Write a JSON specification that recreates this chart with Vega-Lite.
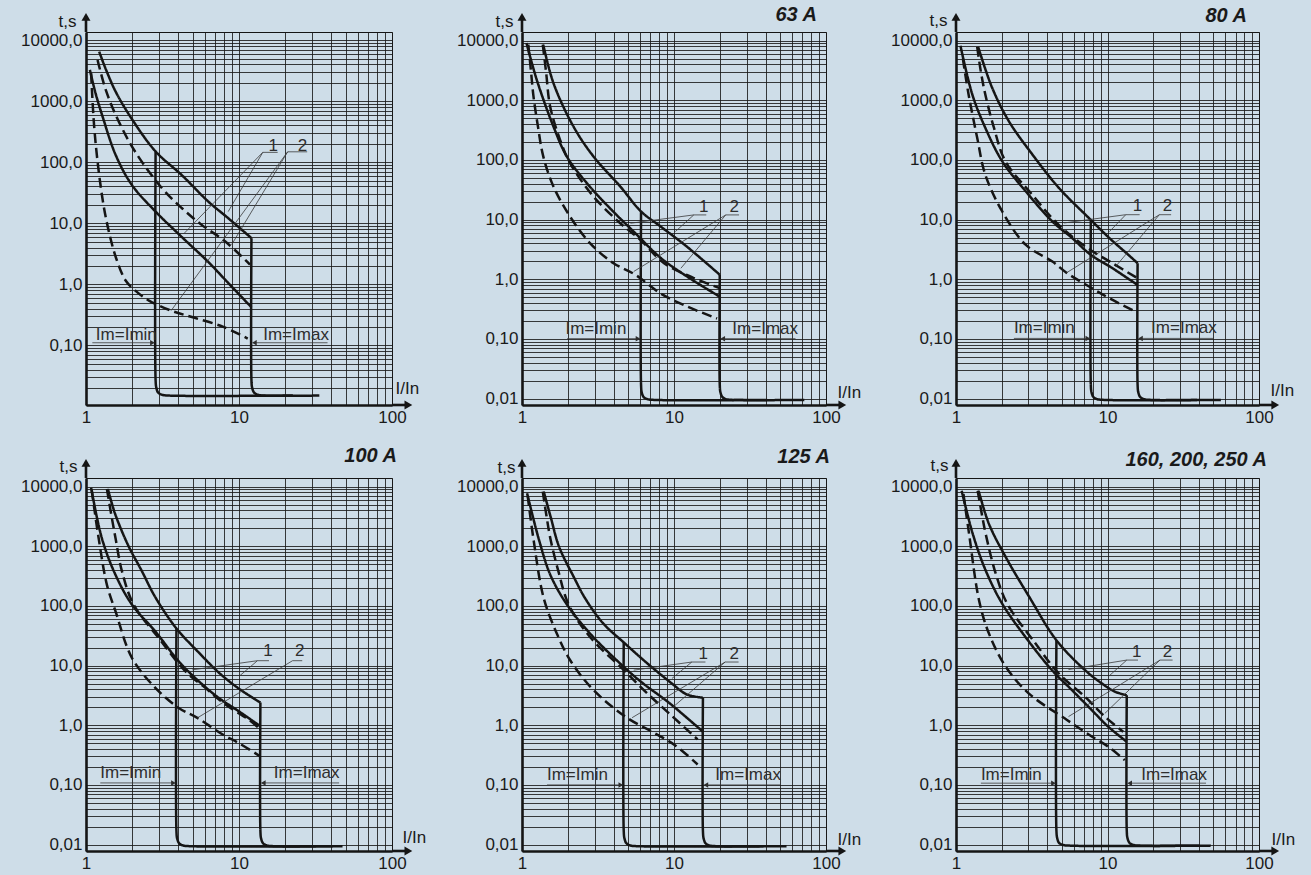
{
"$schema": "https://vega.github.io/schema/vega-lite/v6.json",
"background": "#cedde8",
"autosize": {"type": "none"},
"padding": {"left": 86, "top": 32, "right": 1225, "bottom": 843},
"datasets": {
"cur": [
{"p":"a","id":"a1","d":"s","i":1,"x":1.06,"y":3260},{"p":"a","id":"a1","d":"s","i":2,"x":1.15,"y":1400},{"p":"a","id":"a1","d":"s","i":3,"x":1.28,"y":571},{"p":"a","id":"a1","d":"s","i":4,"x":1.57,"y":128},{"p":"a","id":"a1","d":"s","i":5,"x":2.0,"y":42},{"p":"a","id":"a1","d":"s","i":6,"x":2.85,"y":15.5},{"p":"a","id":"a1","d":"s","i":7,"x":4.24,"y":5.9},{"p":"a","id":"a1","d":"s","i":8,"x":6.32,"y":2.3},{"p":"a","id":"a1","d":"s","i":9,"x":8.5,"y":1.05},{"p":"a","id":"a1","d":"s","i":10,"x":12.06,"y":0.42},
{"p":"a","id":"a2","d":"s","i":1,"x":1.22,"y":6470},{"p":"a","id":"a2","d":"s","i":2,"x":1.35,"y":3300},{"p":"a","id":"a2","d":"s","i":3,"x":1.57,"y":1400},{"p":"a","id":"a2","d":"s","i":4,"x":2.0,"y":505},{"p":"a","id":"a2","d":"s","i":5,"x":2.85,"y":150},{"p":"a","id":"a2","d":"s","i":6,"x":4.24,"y":61},{"p":"a","id":"a2","d":"s","i":7,"x":6.32,"y":22.5},{"p":"a","id":"a2","d":"s","i":8,"x":8.5,"y":12.1},{"p":"a","id":"a2","d":"s","i":9,"x":12.06,"y":5.7},
{"p":"a","id":"a3","d":"d","i":1,"x":1.19,"y":4740},{"p":"a","id":"a3","d":"d","i":2,"x":1.35,"y":1500},{"p":"a","id":"a3","d":"d","i":3,"x":1.65,"y":445},{"p":"a","id":"a3","d":"d","i":4,"x":2.11,"y":145},{"p":"a","id":"a3","d":"d","i":5,"x":3.15,"y":37},{"p":"a","id":"a3","d":"d","i":6,"x":4.24,"y":17.6},{"p":"a","id":"a3","d":"d","i":7,"x":5.7,"y":9.4},{"p":"a","id":"a3","d":"d","i":8,"x":8.1,"y":5.06},{"p":"a","id":"a3","d":"d","i":9,"x":11.8,"y":2.1},
{"p":"a","id":"a4","d":"d","i":1,"x":1.08,"y":2880},{"p":"a","id":"a4","d":"d","i":2,"x":1.13,"y":394},{"p":"a","id":"a4","d":"d","i":3,"x":1.22,"y":61},{"p":"a","id":"a4","d":"d","i":4,"x":1.35,"y":12.1},{"p":"a","id":"a4","d":"d","i":5,"x":1.57,"y":2.72},{"p":"a","id":"a4","d":"d","i":6,"x":1.82,"y":1.14},{"p":"a","id":"a4","d":"d","i":7,"x":2.11,"y":0.78},{"p":"a","id":"a4","d":"d","i":8,"x":2.58,"y":0.54},{"p":"a","id":"a4","d":"d","i":9,"x":3.6,"y":0.37},{"p":"a","id":"a4","d":"d","i":10,"x":4.92,"y":0.29},{"p":"a","id":"a4","d":"d","i":11,"x":7.9,"y":0.2},{"p":"a","id":"a4","d":"d","i":12,"x":11.4,"y":0.129},
{"p":"a","id":"a5","d":"s","i":1,"x":2.85,"y":150},{"p":"a","id":"a5","d":"s","i":2,"x":2.85,"y":0.027},{"p":"a","id":"a5","d":"s","i":3,"x":2.88,"y":0.0203},{"p":"a","id":"a5","d":"s","i":4,"x":2.96,"y":0.0168},{"p":"a","id":"a5","d":"s","i":5,"x":3.14,"y":0.01545},{"p":"a","id":"a5","d":"s","i":6,"x":3.48,"y":0.015},{"p":"a","id":"a5","d":"s","i":7,"x":22.5,"y":0.015},
{"p":"a","id":"a6","d":"s","i":1,"x":12.06,"y":5.7},{"p":"a","id":"a6","d":"s","i":2,"x":12.06,"y":0.027},{"p":"a","id":"a6","d":"s","i":3,"x":12.18,"y":0.0203},{"p":"a","id":"a6","d":"s","i":4,"x":12.54,"y":0.0168},{"p":"a","id":"a6","d":"s","i":5,"x":13.27,"y":0.01545},{"p":"a","id":"a6","d":"s","i":6,"x":14.7,"y":0.015},{"p":"a","id":"a6","d":"s","i":7,"x":33.5,"y":0.015},

{"p":"b","id":"b1","d":"s","i":1,"x":1.07,"y":9140},{"p":"b","id":"b1","d":"s","i":2,"x":1.25,"y":2220},{"p":"b","id":"b1","d":"s","i":3,"x":1.61,"y":365},{"p":"b","id":"b1","d":"s","i":4,"x":1.97,"y":115},{"p":"b","id":"b1","d":"s","i":5,"x":2.67,"y":41},{"p":"b","id":"b1","d":"s","i":6,"x":4.0,"y":13.5},{"p":"b","id":"b1","d":"s","i":7,"x":5.43,"y":6.3},{"p":"b","id":"b1","d":"s","i":8,"x":8.15,"y":2.3},{"p":"b","id":"b1","d":"s","i":9,"x":12.2,"y":1.11},{"p":"b","id":"b1","d":"s","i":10,"x":20,"y":0.51},
{"p":"b","id":"b2","d":"d","i":1,"x":1.37,"y":8570},{"p":"b","id":"b2","d":"d","i":2,"x":1.44,"y":3000},{"p":"b","id":"b2","d":"d","i":3,"x":1.53,"y":800},{"p":"b","id":"b2","d":"d","i":4,"x":1.78,"y":218},{"p":"b","id":"b2","d":"d","i":5,"x":2.07,"y":89},{"p":"b","id":"b2","d":"d","i":6,"x":2.95,"y":24.5},{"p":"b","id":"b2","d":"d","i":7,"x":4.43,"y":8.7},{"p":"b","id":"b2","d":"d","i":8,"x":6.0,"y":4.6},{"p":"b","id":"b2","d":"d","i":9,"x":8.6,"y":1.86},{"p":"b","id":"b2","d":"d","i":10,"x":13.5,"y":1.05},{"p":"b","id":"b2","d":"d","i":11,"x":20,"y":0.71},
{"p":"b","id":"b3","d":"d","i":1,"x":1.1,"y":8570},{"p":"b","id":"b3","d":"d","i":2,"x":1.15,"y":2800},{"p":"b","id":"b3","d":"d","i":3,"x":1.19,"y":1165},{"p":"b","id":"b3","d":"d","i":4,"x":1.27,"y":380},{"p":"b","id":"b3","d":"d","i":5,"x":1.38,"y":115},{"p":"b","id":"b3","d":"d","i":6,"x":1.61,"y":36},{"p":"b","id":"b3","d":"d","i":7,"x":2.07,"y":11.3},{"p":"b","id":"b3","d":"d","i":8,"x":2.81,"y":4.0},{"p":"b","id":"b3","d":"d","i":9,"x":4.0,"y":1.86},{"p":"b","id":"b3","d":"d","i":10,"x":5.57,"y":1.19},{"p":"b","id":"b3","d":"d","i":11,"x":8.15,"y":0.58},{"p":"b","id":"b3","d":"d","i":12,"x":12.2,"y":0.35},{"p":"b","id":"b3","d":"d","i":13,"x":19.2,"y":0.22},
{"p":"b","id":"b4","d":"s","i":1,"x":1.38,"y":8570},{"p":"b","id":"b4","d":"s","i":2,"x":1.61,"y":1950},{"p":"b","id":"b4","d":"s","i":3,"x":2.18,"y":365},{"p":"b","id":"b4","d":"s","i":4,"x":2.95,"y":115},{"p":"b","id":"b4","d":"s","i":5,"x":4.43,"y":36},{"p":"b","id":"b4","d":"s","i":6,"x":6.07,"y":13.7},{"p":"b","id":"b4","d":"s","i":7,"x":8.15,"y":7.7},{"p":"b","id":"b4","d":"s","i":8,"x":12.2,"y":3.5},{"p":"b","id":"b4","d":"s","i":9,"x":20,"y":1.19},
{"p":"b","id":"b5","d":"s","i":1,"x":6.07,"y":13.7},{"p":"b","id":"b5","d":"s","i":2,"x":6.07,"y":0.0171},{"p":"b","id":"b5","d":"s","i":3,"x":6.13,"y":0.0128},{"p":"b","id":"b5","d":"s","i":4,"x":6.31,"y":0.01064},{"p":"b","id":"b5","d":"s","i":5,"x":6.68,"y":0.00979},{"p":"b","id":"b5","d":"s","i":6,"x":7.41,"y":0.0095},{"p":"b","id":"b5","d":"s","i":7,"x":41,"y":0.0095},
{"p":"b","id":"b6","d":"s","i":1,"x":20,"y":1.19},{"p":"b","id":"b6","d":"s","i":2,"x":20,"y":0.0171},{"p":"b","id":"b6","d":"s","i":3,"x":20.2,"y":0.0128},{"p":"b","id":"b6","d":"s","i":4,"x":20.8,"y":0.01064},{"p":"b","id":"b6","d":"s","i":5,"x":22,"y":0.00979},{"p":"b","id":"b6","d":"s","i":6,"x":24.4,"y":0.0095},{"p":"b","id":"b6","d":"s","i":7,"x":72,"y":0.0095},

{"p":"c","id":"c1","d":"s","i":1,"x":1.07,"y":8240},{"p":"c","id":"c1","d":"s","i":2,"x":1.28,"y":1265},{"p":"c","id":"c1","d":"s","i":3,"x":1.56,"y":348},{"p":"c","id":"c1","d":"s","i":4,"x":2.02,"y":95},{"p":"c","id":"c1","d":"s","i":5,"x":2.88,"y":30},{"p":"c","id":"c1","d":"s","i":6,"x":4.33,"y":9.3},{"p":"c","id":"c1","d":"s","i":7,"x":5.85,"y":4.9},{"p":"c","id":"c1","d":"s","i":8,"x":7.76,"y":2.57},{"p":"c","id":"c1","d":"s","i":9,"x":10.8,"y":1.53},{"p":"c","id":"c1","d":"s","i":10,"x":15.8,"y":0.8},
{"p":"c","id":"c2","d":"d","i":1,"x":1.38,"y":7900},{"p":"c","id":"c2","d":"d","i":2,"x":1.46,"y":3000},{"p":"c","id":"c2","d":"d","i":3,"x":1.56,"y":1265},{"p":"c","id":"c2","d":"d","i":4,"x":1.78,"y":348},{"p":"c","id":"c2","d":"d","i":5,"x":2.12,"y":95},{"p":"c","id":"c2","d":"d","i":6,"x":3.19,"y":26},{"p":"c","id":"c2","d":"d","i":7,"x":4.78,"y":8.1},{"p":"c","id":"c2","d":"d","i":8,"x":7.2,"y":3.5},{"p":"c","id":"c2","d":"d","i":9,"x":10.8,"y":1.86},{"p":"c","id":"c2","d":"d","i":10,"x":15.8,"y":1.04},
{"p":"c","id":"c3","d":"d","i":1,"x":1.11,"y":5000},{"p":"c","id":"c3","d":"d","i":2,"x":1.21,"y":1265},{"p":"c","id":"c3","d":"d","i":3,"x":1.38,"y":236},{"p":"c","id":"c3","d":"d","i":4,"x":1.56,"y":57},{"p":"c","id":"c3","d":"d","i":5,"x":2.02,"y":13.7},{"p":"c","id":"c3","d":"d","i":6,"x":2.88,"y":3.8},{"p":"c","id":"c3","d":"d","i":7,"x":4.33,"y":1.98},{"p":"c","id":"c3","d":"d","i":8,"x":5.43,"y":1.26},{"p":"c","id":"c3","d":"d","i":9,"x":7.96,"y":0.7},{"p":"c","id":"c3","d":"d","i":10,"x":10.8,"y":0.45},{"p":"c","id":"c3","d":"d","i":11,"x":15.4,"y":0.285},
{"p":"c","id":"c4","d":"s","i":1,"x":1.4,"y":7900},{"p":"c","id":"c4","d":"s","i":2,"x":1.73,"y":1640},{"p":"c","id":"c4","d":"s","i":3,"x":2.23,"y":450},{"p":"c","id":"c4","d":"s","i":4,"x":3.19,"y":124},{"p":"c","id":"c4","d":"s","i":5,"x":4.78,"y":34},{"p":"c","id":"c4","d":"s","i":6,"x":7.76,"y":9.9},{"p":"c","id":"c4","d":"s","i":7,"x":10.3,"y":4.9},{"p":"c","id":"c4","d":"s","i":8,"x":13.9,"y":2.5},{"p":"c","id":"c4","d":"s","i":9,"x":15.8,"y":1.86},
{"p":"c","id":"c5","d":"s","i":1,"x":7.76,"y":9.9},{"p":"c","id":"c5","d":"s","i":2,"x":7.76,"y":0.0171},{"p":"c","id":"c5","d":"s","i":3,"x":7.84,"y":0.0128},{"p":"c","id":"c5","d":"s","i":4,"x":8.07,"y":0.01064},{"p":"c","id":"c5","d":"s","i":5,"x":8.54,"y":0.00979},{"p":"c","id":"c5","d":"s","i":6,"x":9.47,"y":0.0095},{"p":"c","id":"c5","d":"s","i":7,"x":39,"y":0.0095},
{"p":"c","id":"c6","d":"s","i":1,"x":15.8,"y":1.86},{"p":"c","id":"c6","d":"s","i":2,"x":15.8,"y":0.0171},{"p":"c","id":"c6","d":"s","i":3,"x":15.96,"y":0.0128},{"p":"c","id":"c6","d":"s","i":4,"x":16.43,"y":0.01064},{"p":"c","id":"c6","d":"s","i":5,"x":17.38,"y":0.00979},{"p":"c","id":"c6","d":"s","i":6,"x":19.28,"y":0.0095},{"p":"c","id":"c6","d":"s","i":7,"x":56,"y":0.0095},

{"p":"d","id":"d1","d":"s","i":1,"x":1.08,"y":9620},{"p":"d","id":"d1","d":"s","i":2,"x":1.27,"y":1365},{"p":"d","id":"d1","d":"s","i":3,"x":1.56,"y":332},{"p":"d","id":"d1","d":"s","i":4,"x":2.0,"y":105},{"p":"d","id":"d1","d":"s","i":5,"x":2.85,"y":37},{"p":"d","id":"d1","d":"s","i":6,"x":4.04,"y":11.8},{"p":"d","id":"d1","d":"s","i":7,"x":5.47,"y":5.45},{"p":"d","id":"d1","d":"s","i":8,"x":7.4,"y":2.86},{"p":"d","id":"d1","d":"s","i":9,"x":10,"y":1.71},{"p":"d","id":"d1","d":"s","i":10,"x":13.8,"y":0.96},
{"p":"d","id":"d2","d":"d","i":1,"x":1.37,"y":9150},{"p":"d","id":"d2","d":"d","i":2,"x":1.46,"y":3500},{"p":"d","id":"d2","d":"d","i":3,"x":1.56,"y":1365},{"p":"d","id":"d2","d":"d","i":4,"x":1.72,"y":378},{"p":"d","id":"d2","d":"d","i":5,"x":2.05,"y":105},{"p":"d","id":"d2","d":"d","i":6,"x":2.99,"y":29},{"p":"d","id":"d2","d":"d","i":7,"x":4.47,"y":8.0},{"p":"d","id":"d2","d":"d","i":8,"x":6.05,"y":4.2},{"p":"d","id":"d2","d":"d","i":9,"x":8.2,"y":2.2},{"p":"d","id":"d2","d":"d","i":10,"x":11.6,"y":1.24},{"p":"d","id":"d2","d":"d","i":11,"x":13.6,"y":0.88},
{"p":"d","id":"d3","d":"d","i":1,"x":1.09,"y":8800},{"p":"d","id":"d3","d":"d","i":2,"x":1.21,"y":1365},{"p":"d","id":"d3","d":"d","i":3,"x":1.37,"y":226},{"p":"d","id":"d3","d":"d","i":4,"x":1.56,"y":81},{"p":"d","id":"d3","d":"d","i":5,"x":2.0,"y":13.4},{"p":"d","id":"d3","d":"d","i":6,"x":2.85,"y":4.2},{"p":"d","id":"d3","d":"d","i":7,"x":4.04,"y":1.95},{"p":"d","id":"d3","d":"d","i":8,"x":5.34,"y":1.33},{"p":"d","id":"d3","d":"d","i":9,"x":7.83,"y":0.7},{"p":"d","id":"d3","d":"d","i":10,"x":10,"y":0.5},{"p":"d","id":"d3","d":"d","i":11,"x":13.8,"y":0.3},
{"p":"d","id":"d4","d":"s","i":1,"x":1.39,"y":9150},{"p":"d","id":"d4","d":"s","i":2,"x":1.55,"y":3500},{"p":"d","id":"d4","d":"s","i":3,"x":1.9,"y":1000},{"p":"d","id":"d4","d":"s","i":4,"x":2.3,"y":400},{"p":"d","id":"d4","d":"s","i":5,"x":2.84,"y":140},{"p":"d","id":"d4","d":"s","i":6,"x":3.9,"y":42},{"p":"d","id":"d4","d":"s","i":7,"x":5.47,"y":16.5},{"p":"d","id":"d4","d":"s","i":8,"x":7.4,"y":7.6},{"p":"d","id":"d4","d":"s","i":9,"x":10,"y":4.1},{"p":"d","id":"d4","d":"s","i":10,"x":13.8,"y":2.4},
{"p":"d","id":"d5","d":"s","i":1,"x":3.9,"y":42},{"p":"d","id":"d5","d":"s","i":2,"x":3.9,"y":0.0169},{"p":"d","id":"d5","d":"s","i":3,"x":3.94,"y":0.0127},{"p":"d","id":"d5","d":"s","i":4,"x":4.06,"y":0.01053},{"p":"d","id":"d5","d":"s","i":5,"x":4.29,"y":0.00968},{"p":"d","id":"d5","d":"s","i":6,"x":4.76,"y":0.0094},{"p":"d","id":"d5","d":"s","i":7,"x":41,"y":0.0094},
{"p":"d","id":"d6","d":"s","i":1,"x":13.8,"y":2.4},{"p":"d","id":"d6","d":"s","i":2,"x":13.8,"y":0.0169},{"p":"d","id":"d6","d":"s","i":3,"x":13.94,"y":0.0127},{"p":"d","id":"d6","d":"s","i":4,"x":14.35,"y":0.01053},{"p":"d","id":"d6","d":"s","i":5,"x":15.18,"y":0.00968},{"p":"d","id":"d6","d":"s","i":6,"x":16.84,"y":0.0094},{"p":"d","id":"d6","d":"s","i":7,"x":47.5,"y":0.0094},

{"p":"e","id":"e1","d":"s","i":1,"x":1.08,"y":7760},{"p":"e","id":"e1","d":"s","i":2,"x":1.29,"y":1320},{"p":"e","id":"e1","d":"s","i":3,"x":1.54,"y":328},{"p":"e","id":"e1","d":"s","i":4,"x":1.98,"y":105},{"p":"e","id":"e1","d":"s","i":5,"x":2.82,"y":34},{"p":"e","id":"e1","d":"s","i":6,"x":4.68,"y":9.5},{"p":"e","id":"e1","d":"s","i":7,"x":6.25,"y":5.05},{"p":"e","id":"e1","d":"s","i":8,"x":9.3,"y":2.37},{"p":"e","id":"e1","d":"s","i":9,"x":15.5,"y":0.78},
{"p":"e","id":"e2","d":"d","i":1,"x":1.37,"y":8270},{"p":"e","id":"e2","d":"d","i":2,"x":1.45,"y":3200},{"p":"e","id":"e2","d":"d","i":3,"x":1.54,"y":1320},{"p":"e","id":"e2","d":"d","i":4,"x":1.74,"y":373},{"p":"e","id":"e2","d":"d","i":5,"x":2.03,"y":105},{"p":"e","id":"e2","d":"d","i":6,"x":2.82,"y":29.7},{"p":"e","id":"e2","d":"d","i":7,"x":4.68,"y":8.4},{"p":"e","id":"e2","d":"d","i":8,"x":6.65,"y":3.45},{"p":"e","id":"e2","d":"d","i":9,"x":9.7,"y":1.43},{"p":"e","id":"e2","d":"d","i":10,"x":14.3,"y":0.58},
{"p":"e","id":"e3","d":"d","i":1,"x":1.09,"y":7000},{"p":"e","id":"e3","d":"d","i":2,"x":1.19,"y":1320},{"p":"e","id":"e3","d":"d","i":3,"x":1.39,"y":135},{"p":"e","id":"e3","d":"d","i":4,"x":1.7,"y":34},{"p":"e","id":"e3","d":"d","i":5,"x":2.08,"y":12.2},{"p":"e","id":"e3","d":"d","i":6,"x":2.95,"y":3.9},{"p":"e","id":"e3","d":"d","i":7,"x":4.9,"y":1.34},{"p":"e","id":"e3","d":"d","i":8,"x":7.3,"y":0.76},{"p":"e","id":"e3","d":"d","i":9,"x":10.2,"y":0.46},{"p":"e","id":"e3","d":"d","i":10,"x":14.3,"y":0.22},
{"p":"e","id":"e4","d":"s","i":1,"x":1.39,"y":8270},{"p":"e","id":"e4","d":"s","i":2,"x":1.55,"y":3000},{"p":"e","id":"e4","d":"s","i":3,"x":1.75,"y":1000},{"p":"e","id":"e4","d":"s","i":4,"x":2.2,"y":300},{"p":"e","id":"e4","d":"s","i":5,"x":2.6,"y":135},{"p":"e","id":"e4","d":"s","i":6,"x":3.4,"y":52},{"p":"e","id":"e4","d":"s","i":7,"x":4.67,"y":24.5},{"p":"e","id":"e4","d":"s","i":8,"x":6.65,"y":11},{"p":"e","id":"e4","d":"s","i":9,"x":9.7,"y":5.0},{"p":"e","id":"e4","d":"s","i":10,"x":12.1,"y":3.3},{"p":"e","id":"e4","d":"s","i":11,"x":15.5,"y":2.9},
{"p":"e","id":"e5","d":"s","i":1,"x":4.67,"y":24.5},{"p":"e","id":"e5","d":"s","i":2,"x":4.67,"y":0.0169},{"p":"e","id":"e5","d":"s","i":3,"x":4.72,"y":0.0127},{"p":"e","id":"e5","d":"s","i":4,"x":4.86,"y":0.01053},{"p":"e","id":"e5","d":"s","i":5,"x":5.14,"y":0.00968},{"p":"e","id":"e5","d":"s","i":6,"x":5.7,"y":0.0094},{"p":"e","id":"e5","d":"s","i":7,"x":38.8,"y":0.0094},
{"p":"e","id":"e6","d":"s","i":1,"x":15.5,"y":2.9},{"p":"e","id":"e6","d":"s","i":2,"x":15.5,"y":0.0169},{"p":"e","id":"e6","d":"s","i":3,"x":15.66,"y":0.0127},{"p":"e","id":"e6","d":"s","i":4,"x":16.12,"y":0.01053},{"p":"e","id":"e6","d":"s","i":5,"x":17.05,"y":0.00968},{"p":"e","id":"e6","d":"s","i":6,"x":18.91,"y":0.0094},{"p":"e","id":"e6","d":"s","i":7,"x":55,"y":0.0094},

{"p":"f","id":"f1","d":"s","i":1,"x":1.09,"y":8570},{"p":"f","id":"f1","d":"s","i":2,"x":1.29,"y":1620},{"p":"f","id":"f1","d":"s","i":3,"x":1.57,"y":394},{"p":"f","id":"f1","d":"s","i":4,"x":2.02,"y":109},{"p":"f","id":"f1","d":"s","i":5,"x":2.88,"y":30},{"p":"f","id":"f1","d":"s","i":6,"x":4.3,"y":8.4},{"p":"f","id":"f1","d":"s","i":7,"x":5.82,"y":3.9},{"p":"f","id":"f1","d":"s","i":8,"x":7.87,"y":1.8},{"p":"f","id":"f1","d":"s","i":9,"x":10.1,"y":0.95},{"p":"f","id":"f1","d":"s","i":10,"x":13.4,"y":0.53},
{"p":"f","id":"f2","d":"d","i":1,"x":1.39,"y":8570},{"p":"f","id":"f2","d":"d","i":2,"x":1.48,"y":3500},{"p":"f","id":"f2","d":"d","i":3,"x":1.57,"y":1620},{"p":"f","id":"f2","d":"d","i":4,"x":1.83,"y":347},{"p":"f","id":"f2","d":"d","i":5,"x":2.18,"y":109},{"p":"f","id":"f2","d":"d","i":6,"x":3.35,"y":23.5},{"p":"f","id":"f2","d":"d","i":7,"x":4.76,"y":7.4},{"p":"f","id":"f2","d":"d","i":8,"x":7.11,"y":3.0},{"p":"f","id":"f2","d":"d","i":9,"x":9.6,"y":1.4},{"p":"f","id":"f2","d":"d","i":10,"x":12.7,"y":0.78},
{"p":"f","id":"f3","d":"d","i":1,"x":1.12,"y":7540},{"p":"f","id":"f3","d":"d","i":2,"x":1.22,"y":1620},{"p":"f","id":"f3","d":"d","i":3,"x":1.42,"y":124},{"p":"f","id":"f3","d":"d","i":4,"x":1.65,"y":34.5},{"p":"f","id":"f3","d":"d","i":5,"x":2.13,"y":9.6},{"p":"f","id":"f3","d":"d","i":6,"x":3.03,"y":3.4},{"p":"f","id":"f3","d":"d","i":7,"x":5.4,"y":1.23},{"p":"f","id":"f3","d":"d","i":8,"x":7.87,"y":0.65},{"p":"f","id":"f3","d":"d","i":9,"x":10.1,"y":0.44},{"p":"f","id":"f3","d":"d","i":10,"x":13.0,"y":0.26},
{"p":"f","id":"f4","d":"s","i":1,"x":1.41,"y":8570},{"p":"f","id":"f4","d":"s","i":2,"x":1.65,"y":2380},{"p":"f","id":"f4","d":"s","i":3,"x":2.13,"y":660},{"p":"f","id":"f4","d":"s","i":4,"x":3.03,"y":145},{"p":"f","id":"f4","d":"s","i":5,"x":4.6,"y":26.7},{"p":"f","id":"f4","d":"s","i":6,"x":7.11,"y":8.4},{"p":"f","id":"f4","d":"s","i":7,"x":9.2,"y":5.0},{"p":"f","id":"f4","d":"s","i":8,"x":11.2,"y":3.66},{"p":"f","id":"f4","d":"s","i":9,"x":13.4,"y":3.2},
{"p":"f","id":"f5","d":"s","i":1,"x":4.6,"y":26.7},{"p":"f","id":"f5","d":"s","i":2,"x":4.6,"y":0.0173},{"p":"f","id":"f5","d":"s","i":3,"x":4.65,"y":0.013},{"p":"f","id":"f5","d":"s","i":4,"x":4.78,"y":0.01075},{"p":"f","id":"f5","d":"s","i":5,"x":5.06,"y":0.00989},{"p":"f","id":"f5","d":"s","i":6,"x":5.61,"y":0.0096},{"p":"f","id":"f5","d":"s","i":7,"x":40.3,"y":0.0096},
{"p":"f","id":"f6","d":"s","i":1,"x":13.4,"y":3.2},{"p":"f","id":"f6","d":"s","i":2,"x":13.4,"y":0.0173},{"p":"f","id":"f6","d":"s","i":3,"x":13.53,"y":0.013},{"p":"f","id":"f6","d":"s","i":4,"x":13.94,"y":0.01075},{"p":"f","id":"f6","d":"s","i":5,"x":14.74,"y":0.00989},{"p":"f","id":"f6","d":"s","i":6,"x":16.35,"y":0.0096},{"p":"f","id":"f6","d":"s","i":7,"x":48,"y":0.0096}
],
"ann": [
{"p":"a","x":14.3,"y":145,"x2":17.9,"y2":145},{"p":"a","x":20.8,"y":148,"x2":27.9,"y2":148},{"p":"a","x":14.3,"y":145,"x2":8.5,"y2":15.5},{"p":"a","x":14.3,"y":145,"x2":4.4,"y2":6.9},{"p":"a","x":20.8,"y":148,"x2":8.95,"y2":4.45},{"p":"a","x":20.8,"y":148,"x2":3.6,"y2":0.37},{"p":"a","x":1.1,"y":0.11,"x2":2.72,"y2":0.11},{"p":"a","x":12.6,"y":0.11,"x2":37.9,"y2":0.11},
{"p":"b","x":13.5,"y":12,"x2":16.3,"y2":12},{"p":"b","x":21.9,"y":12,"x2":26.8,"y2":12},{"p":"b","x":13.5,"y":12,"x2":5.17,"y2":8.7},{"p":"b","x":13.5,"y":12,"x2":10.2,"y2":6.3},{"p":"b","x":21.9,"y":12,"x2":5.43,"y2":1.35},{"p":"b","x":21.9,"y":12,"x2":11.1,"y2":1.53},{"p":"b","x":1.98,"y":0.101,"x2":5.8,"y2":0.101},{"p":"b","x":20.9,"y":0.101,"x2":63,"y2":0.101},
{"p":"c","x":13.2,"y":12.1,"x2":16.3,"y2":12.1},{"p":"c","x":22,"y":12.1,"x2":26.3,"y2":12.1},{"p":"c","x":13.2,"y":12.1,"x2":5.17,"y2":8.8},{"p":"c","x":13.2,"y":12.1,"x2":10.3,"y2":6.3},{"p":"c","x":22,"y":12.1,"x2":5.3,"y2":1.26},{"p":"c","x":22,"y":12.1,"x2":11.3,"y2":1.63},{"p":"c","x":2.41,"y":0.102,"x2":7.42,"y2":0.102},{"p":"c","x":16.5,"y":0.102,"x2":49.9,"y2":0.102},
{"p":"d","x":13.2,"y":12.1,"x2":15.7,"y2":12.1},{"p":"d","x":22.4,"y":12.1,"x2":25.9,"y2":12.1},{"p":"d","x":13.2,"y":12.1,"x2":4.95,"y2":8.5},{"p":"d","x":13.2,"y":12.1,"x2":10,"y2":6.6},{"p":"d","x":22.4,"y":12.1,"x2":5.34,"y2":1.33},{"p":"d","x":1.24,"y":0.108,"x2":3.73,"y2":0.108},{"p":"d","x":14.4,"y":0.108,"x2":45.1,"y2":0.108},
{"p":"e","x":13.1,"y":11.5,"x2":16.1,"y2":11.5},{"p":"e","x":21.7,"y":11.5,"x2":26.6,"y2":11.5},{"p":"e","x":13.1,"y":11.5,"x2":5.43,"y2":8.4},{"p":"e","x":13.1,"y":11.5,"x2":9.7,"y2":6.1},{"p":"e","x":21.7,"y":11.5,"x2":5.3,"y2":1.34},{"p":"e","x":21.7,"y":11.5,"x2":9.7,"y2":1.95},{"p":"e","x":1.46,"y":0.1,"x2":4.47,"y2":0.1},{"p":"e","x":16.2,"y":0.1,"x2":50,"y2":0.1},
{"p":"f","x":13.4,"y":12.4,"x2":15.9,"y2":12.4},{"p":"f","x":22.2,"y":12.4,"x2":26.9,"y2":12.4},{"p":"f","x":13.4,"y":12.4,"x2":5.53,"y2":8.6},{"p":"f","x":13.4,"y":12.4,"x2":10.1,"y2":6.5},{"p":"f","x":22.2,"y":12.4,"x2":5.53,"y2":1.4},{"p":"f","x":22.2,"y":12.4,"x2":9.6,"y2":1.58},{"p":"f","x":1.46,"y":0.107,"x2":4.4,"y2":0.107},{"p":"f","x":14,"y":0.107,"x2":44.7,"y2":0.107}
],
"txt": [
{"p":"a","x":15.6,"y":187,"s":"1"},{"p":"a","x":24.2,"y":187,"s":"2"},{"p":"a","x":1.16,"y":0.146,"s":"Im=Imin"},{"p":"a","x":14.4,"y":0.146,"s":"Im=Imax"},
{"p":"b","x":14.6,"y":16.6,"s":"1"},{"p":"b","x":23.2,"y":16.6,"s":"2"},{"p":"b","x":1.93,"y":0.149,"s":"Im=Imin"},{"p":"b","x":24.2,"y":0.149,"s":"Im=Imax"},
{"p":"c","x":14.7,"y":16.7,"s":"1"},{"p":"c","x":23.2,"y":16.7,"s":"2"},{"p":"c","x":2.41,"y":0.15,"s":"Im=Imin"},{"p":"c","x":19.4,"y":0.15,"s":"Im=Imax"},
{"p":"d","x":14.4,"y":17.3,"s":"1"},{"p":"d","x":23.2,"y":17.3,"s":"2"},{"p":"d","x":1.24,"y":0.158,"s":"Im=Imin"},{"p":"d","x":16.9,"y":0.158,"s":"Im=Imax"},
{"p":"e","x":14.5,"y":15.8,"s":"1"},{"p":"e","x":23.2,"y":15.8,"s":"2"},{"p":"e","x":1.46,"y":0.146,"s":"Im=Imin"},{"p":"e","x":18.7,"y":0.146,"s":"Im=Imax"},
{"p":"f","x":14.5,"y":17,"s":"1"},{"p":"f","x":23.2,"y":17,"s":"2"},{"p":"f","x":1.46,"y":0.148,"s":"Im=Imin"},{"p":"f","x":16.7,"y":0.148,"s":"Im=Imax"}
],
"hd": [
{"p":"a","x":2.72,"y":0.11,"dir":"r"},{"p":"a","x":12.6,"y":0.11,"dir":"l"},
{"p":"b","x":5.8,"y":0.101,"dir":"r"},{"p":"b","x":20.9,"y":0.101,"dir":"l"},
{"p":"c","x":7.42,"y":0.102,"dir":"r"},{"p":"c","x":16.5,"y":0.102,"dir":"l"},
{"p":"d","x":3.73,"y":0.108,"dir":"r"},{"p":"d","x":14.4,"y":0.108,"dir":"l"},
{"p":"e","x":4.47,"y":0.1,"dir":"r"},{"p":"e","x":16.2,"y":0.1,"dir":"l"},
{"p":"f","x":4.4,"y":0.107,"dir":"r"},{"p":"f","x":14,"y":0.107,"dir":"l"}
],
"ax": [
{"p":"a","x":1,"y":13600,"x2":1,"y2":24000,"dir":"u"},{"p":"a","x":100,"y":0.0105,"x2":128,"y2":0.0105,"dir":"r"},
{"p":"b","x":1,"y":14000,"x2":1,"y2":25000,"dir":"u"},{"p":"b","x":100,"y":0.0078,"x2":128,"y2":0.0078,"dir":"r"},
{"p":"c","x":1,"y":14000,"x2":1,"y2":25000,"dir":"u"},{"p":"c","x":100,"y":0.0078,"x2":128,"y2":0.0078,"dir":"r"},
{"p":"d","x":1,"y":14000,"x2":1,"y2":25000,"dir":"u"},{"p":"d","x":100,"y":0.0078,"x2":128,"y2":0.0078,"dir":"r"},
{"p":"e","x":1,"y":14000,"x2":1,"y2":25000,"dir":"u"},{"p":"e","x":100,"y":0.0078,"x2":128,"y2":0.0078,"dir":"r"},
{"p":"f","x":1,"y":14000,"x2":1,"y2":25000,"dir":"u"},{"p":"f","x":100,"y":0.0078,"x2":128,"y2":0.0078,"dir":"r"}
]
},
"columns": 3,
"spacing": {"row": 73, "column": 130},
"bounds": "flush",
"concat": [
{
"width": 306, "height": 373,
"layer": [
{"data": {"name": "cur"}, "transform": [{"filter": "datum.p=='a'"}],
 "mark": {"type": "line", "interpolate": "catmull-rom", "color": "#151515", "strokeWidth": 2.5},
 "encoding": {
  "x": {"field": "x", "type": "quantitative", "scale": {"type": "log", "domain": [1, 100], "nice": false},
   "axis": {"values": [1,2,3,4,5,6,7,8,9,10,20,30,40,50,60,70,80,90,100], "labelExpr": "datum.value==1||datum.value==10||datum.value==100?''+datum.value:''", "title": "I/In", "titleX": 309, "titleY": -17, "titleAngle": 0, "titleAlign": "left", "titleBaseline": "middle"}},
  "y": {"field": "y", "type": "quantitative", "scale": {"type": "log", "domain": [0.0105, 13600], "nice": false},
   "axis": {"values": [0.01,0.02,0.03,0.04,0.05,0.06,0.07,0.08,0.09,0.1,0.2,0.3,0.4,0.5,0.6,0.7,0.8,0.9,1,2,3,4,5,6,7,8,9,10,20,30,40,50,60,70,80,90,100,200,300,400,500,600,700,800,900,1000,2000,3000,4000,5000,6000,7000,8000,9000,10000], "labelExpr": "datum.value==10000?'10000,0':datum.value==1000?'1000,0':datum.value==100?'100,0':datum.value==10?'10,0':datum.value==1?'1,0':datum.value==0.1?'0,10':datum.value==0.01?'0,01':''", "title": "t,s", "titleX": -10, "titleY": -11, "titleAngle": 0, "titleAlign": "right", "titleBaseline": "middle"}},
  "detail": {"field": "id"},
  "order": {"field": "i", "type": "quantitative"},
  "strokeDash": {"field": "d", "type": "nominal", "scale": {"domain": ["s", "d"], "range": [[1, 0], [10, 5]]}, "legend": null}
 }},
{"data": {"name": "ann"}, "transform": [{"filter": "datum.p=='a'"}], "mark": {"type": "rule", "color": "#3a3a3a", "strokeWidth": 0.8},
 "encoding": {"x": {"field": "x", "type": "quantitative", "scale": {"type": "log", "domain": [1, 100], "nice": false}}, "y": {"field": "y", "type": "quantitative", "scale": {"type": "log", "domain": [0.0105, 13600], "nice": false}}, "x2": {"field": "x2"}, "y2": {"field": "y2"}}},
{"data": {"name": "txt"}, "transform": [{"filter": "datum.p=='a'"}], "mark": {"type": "text", "align": "left", "baseline": "middle", "font": "Liberation Sans", "fontSize": 17, "color": "#2e2e2e"},
 "encoding": {"x": {"field": "x", "type": "quantitative", "scale": {"type": "log", "domain": [1, 100], "nice": false}}, "y": {"field": "y", "type": "quantitative", "scale": {"type": "log", "domain": [0.0105, 13600], "nice": false}}, "text": {"field": "s"}}},
{"data": {"name": "hd"}, "transform": [{"filter": "datum.p=='a'"}], "mark": {"type": "point", "filled": true, "size": 30, "opacity": 1, "color": "#2e2e2e"},
 "encoding": {"x": {"field": "x", "type": "quantitative", "scale": {"type": "log", "domain": [1, 100], "nice": false}}, "y": {"field": "y", "type": "quantitative", "scale": {"type": "log", "domain": [0.0105, 13600], "nice": false}}, "shape": {"field": "dir", "type": "nominal", "scale": {"domain": ["r", "l", "u"], "range": ["triangle-right", "triangle-left", "triangle-up"]}, "legend": null}}},
{"data": {"name": "ax"}, "transform": [{"filter": "datum.p=='a'"}], "mark": {"type": "rule", "color": "#151515", "strokeWidth": 2.6},
 "encoding": {"x": {"field": "x", "type": "quantitative", "scale": {"type": "log", "domain": [1, 100], "nice": false}}, "y": {"field": "y", "type": "quantitative", "scale": {"type": "log", "domain": [0.0105, 13600], "nice": false}}, "x2": {"field": "x2"}, "y2": {"field": "y2"}}},
{"data": {"name": "ax"}, "transform": [{"filter": "datum.p=='a'"}], "mark": {"type": "point", "filled": true, "size": 80, "opacity": 1, "color": "#151515"},
 "encoding": {"x": {"field": "x2", "type": "quantitative", "scale": {"type": "log", "domain": [1, 100], "nice": false}}, "y": {"field": "y2", "type": "quantitative", "scale": {"type": "log", "domain": [0.0105, 13600], "nice": false}}, "shape": {"field": "dir", "type": "nominal", "scale": {"domain": ["r", "l", "u"], "range": ["triangle-right", "triangle-left", "triangle-up"]}, "legend": null}}}
]
},
{
"width": 304, "height": 373,
"title": {"text": "63 A", "dx": -9, "dy": 7},
"layer": [
{"data": {"name": "cur"}, "transform": [{"filter": "datum.p=='b'"}],
 "mark": {"type": "line", "interpolate": "catmull-rom", "color": "#151515", "strokeWidth": 2.5},
 "encoding": {
  "x": {"field": "x", "type": "quantitative", "scale": {"type": "log", "domain": [1, 100], "nice": false},
   "axis": {"values": [1,2,3,4,5,6,7,8,9,10,20,30,40,50,60,70,80,90,100], "labelExpr": "datum.value==1||datum.value==10||datum.value==100?''+datum.value:''", "title": "I/In", "titleX": 315, "titleY": -13, "titleAngle": 0, "titleAlign": "left", "titleBaseline": "middle"}},
  "y": {"field": "y", "type": "quantitative", "scale": {"type": "log", "domain": [0.0078, 14000], "nice": false},
   "axis": {"values": [0.01,0.02,0.03,0.04,0.05,0.06,0.07,0.08,0.09,0.1,0.2,0.3,0.4,0.5,0.6,0.7,0.8,0.9,1,2,3,4,5,6,7,8,9,10,20,30,40,50,60,70,80,90,100,200,300,400,500,600,700,800,900,1000,2000,3000,4000,5000,6000,7000,8000,9000,10000], "labelExpr": "datum.value==10000?'10000,0':datum.value==1000?'1000,0':datum.value==100?'100,0':datum.value==10?'10,0':datum.value==1?'1,0':datum.value==0.1?'0,10':datum.value==0.01?'0,01':''", "title": "t,s", "titleX": -9, "titleY": -11, "titleAngle": 0, "titleAlign": "right", "titleBaseline": "middle"}},
  "detail": {"field": "id"},
  "order": {"field": "i", "type": "quantitative"},
  "strokeDash": {"field": "d", "type": "nominal", "scale": {"domain": ["s", "d"], "range": [[1, 0], [10, 5]]}, "legend": null}
 }},
{"data": {"name": "ann"}, "transform": [{"filter": "datum.p=='b'"}], "mark": {"type": "rule", "color": "#3a3a3a", "strokeWidth": 0.8},
 "encoding": {"x": {"field": "x", "type": "quantitative", "scale": {"type": "log", "domain": [1, 100], "nice": false}}, "y": {"field": "y", "type": "quantitative", "scale": {"type": "log", "domain": [0.0078, 14000], "nice": false}}, "x2": {"field": "x2"}, "y2": {"field": "y2"}}},
{"data": {"name": "txt"}, "transform": [{"filter": "datum.p=='b'"}], "mark": {"type": "text", "align": "left", "baseline": "middle", "font": "Liberation Sans", "fontSize": 17, "color": "#2e2e2e"},
 "encoding": {"x": {"field": "x", "type": "quantitative", "scale": {"type": "log", "domain": [1, 100], "nice": false}}, "y": {"field": "y", "type": "quantitative", "scale": {"type": "log", "domain": [0.0078, 14000], "nice": false}}, "text": {"field": "s"}}},
{"data": {"name": "hd"}, "transform": [{"filter": "datum.p=='b'"}], "mark": {"type": "point", "filled": true, "size": 30, "opacity": 1, "color": "#2e2e2e"},
 "encoding": {"x": {"field": "x", "type": "quantitative", "scale": {"type": "log", "domain": [1, 100], "nice": false}}, "y": {"field": "y", "type": "quantitative", "scale": {"type": "log", "domain": [0.0078, 14000], "nice": false}}, "shape": {"field": "dir", "type": "nominal", "scale": {"domain": ["r", "l", "u"], "range": ["triangle-right", "triangle-left", "triangle-up"]}, "legend": null}}},
{"data": {"name": "ax"}, "transform": [{"filter": "datum.p=='b'"}], "mark": {"type": "rule", "color": "#151515", "strokeWidth": 2.6},
 "encoding": {"x": {"field": "x", "type": "quantitative", "scale": {"type": "log", "domain": [1, 100], "nice": false}}, "y": {"field": "y", "type": "quantitative", "scale": {"type": "log", "domain": [0.0078, 14000], "nice": false}}, "x2": {"field": "x2"}, "y2": {"field": "y2"}}},
{"data": {"name": "ax"}, "transform": [{"filter": "datum.p=='b'"}], "mark": {"type": "point", "filled": true, "size": 80, "opacity": 1, "color": "#151515"},
 "encoding": {"x": {"field": "x2", "type": "quantitative", "scale": {"type": "log", "domain": [1, 100], "nice": false}}, "y": {"field": "y2", "type": "quantitative", "scale": {"type": "log", "domain": [0.0078, 14000], "nice": false}}, "shape": {"field": "dir", "type": "nominal", "scale": {"domain": ["r", "l", "u"], "range": ["triangle-right", "triangle-left", "triangle-up"]}, "legend": null}}}
]
},
{
"width": 303, "height": 373,
"title": {"text": "80 A", "dx": -12, "dy": 9},
"layer": [
{"data": {"name": "cur"}, "transform": [{"filter": "datum.p=='c'"}],
 "mark": {"type": "line", "interpolate": "catmull-rom", "color": "#151515", "strokeWidth": 2.5},
 "encoding": {
  "x": {"field": "x", "type": "quantitative", "scale": {"type": "log", "domain": [1, 100], "nice": false},
   "axis": {"values": [1,2,3,4,5,6,7,8,9,10,20,30,40,50,60,70,80,90,100], "labelExpr": "datum.value==1||datum.value==10||datum.value==100?''+datum.value:''", "title": "I/In", "titleX": 314, "titleY": -15, "titleAngle": 0, "titleAlign": "left", "titleBaseline": "middle"}},
  "y": {"field": "y", "type": "quantitative", "scale": {"type": "log", "domain": [0.0078, 14000], "nice": false},
   "axis": {"values": [0.01,0.02,0.03,0.04,0.05,0.06,0.07,0.08,0.09,0.1,0.2,0.3,0.4,0.5,0.6,0.7,0.8,0.9,1,2,3,4,5,6,7,8,9,10,20,30,40,50,60,70,80,90,100,200,300,400,500,600,700,800,900,1000,2000,3000,4000,5000,6000,7000,8000,9000,10000], "labelExpr": "datum.value==10000?'10000,0':datum.value==1000?'1000,0':datum.value==100?'100,0':datum.value==10?'10,0':datum.value==1?'1,0':datum.value==0.1?'0,10':datum.value==0.01?'0,01':''", "title": "t,s", "titleX": -9, "titleY": -12, "titleAngle": 0, "titleAlign": "right", "titleBaseline": "middle"}},
  "detail": {"field": "id"},
  "order": {"field": "i", "type": "quantitative"},
  "strokeDash": {"field": "d", "type": "nominal", "scale": {"domain": ["s", "d"], "range": [[1, 0], [10, 5]]}, "legend": null}
 }},
{"data": {"name": "ann"}, "transform": [{"filter": "datum.p=='c'"}], "mark": {"type": "rule", "color": "#3a3a3a", "strokeWidth": 0.8},
 "encoding": {"x": {"field": "x", "type": "quantitative", "scale": {"type": "log", "domain": [1, 100], "nice": false}}, "y": {"field": "y", "type": "quantitative", "scale": {"type": "log", "domain": [0.0078, 14000], "nice": false}}, "x2": {"field": "x2"}, "y2": {"field": "y2"}}},
{"data": {"name": "txt"}, "transform": [{"filter": "datum.p=='c'"}], "mark": {"type": "text", "align": "left", "baseline": "middle", "font": "Liberation Sans", "fontSize": 17, "color": "#2e2e2e"},
 "encoding": {"x": {"field": "x", "type": "quantitative", "scale": {"type": "log", "domain": [1, 100], "nice": false}}, "y": {"field": "y", "type": "quantitative", "scale": {"type": "log", "domain": [0.0078, 14000], "nice": false}}, "text": {"field": "s"}}},
{"data": {"name": "hd"}, "transform": [{"filter": "datum.p=='c'"}], "mark": {"type": "point", "filled": true, "size": 30, "opacity": 1, "color": "#2e2e2e"},
 "encoding": {"x": {"field": "x", "type": "quantitative", "scale": {"type": "log", "domain": [1, 100], "nice": false}}, "y": {"field": "y", "type": "quantitative", "scale": {"type": "log", "domain": [0.0078, 14000], "nice": false}}, "shape": {"field": "dir", "type": "nominal", "scale": {"domain": ["r", "l", "u"], "range": ["triangle-right", "triangle-left", "triangle-up"]}, "legend": null}}},
{"data": {"name": "ax"}, "transform": [{"filter": "datum.p=='c'"}], "mark": {"type": "rule", "color": "#151515", "strokeWidth": 2.6},
 "encoding": {"x": {"field": "x", "type": "quantitative", "scale": {"type": "log", "domain": [1, 100], "nice": false}}, "y": {"field": "y", "type": "quantitative", "scale": {"type": "log", "domain": [0.0078, 14000], "nice": false}}, "x2": {"field": "x2"}, "y2": {"field": "y2"}}},
{"data": {"name": "ax"}, "transform": [{"filter": "datum.p=='c'"}], "mark": {"type": "point", "filled": true, "size": 80, "opacity": 1, "color": "#151515"},
 "encoding": {"x": {"field": "x2", "type": "quantitative", "scale": {"type": "log", "domain": [1, 100], "nice": false}}, "y": {"field": "y2", "type": "quantitative", "scale": {"type": "log", "domain": [0.0078, 14000], "nice": false}}, "shape": {"field": "dir", "type": "nominal", "scale": {"domain": ["r", "l", "u"], "range": ["triangle-right", "triangle-left", "triangle-up"]}, "legend": null}}}
]
},
{
"width": 306, "height": 373,
"title": {"text": "100 A", "dx": 5, "dy": 3},
"layer": [
{"data": {"name": "cur"}, "transform": [{"filter": "datum.p=='d'"}],
 "mark": {"type": "line", "interpolate": "catmull-rom", "color": "#151515", "strokeWidth": 2.5},
 "encoding": {
  "x": {"field": "x", "type": "quantitative", "scale": {"type": "log", "domain": [1, 100], "nice": false},
   "axis": {"values": [1,2,3,4,5,6,7,8,9,10,20,30,40,50,60,70,80,90,100], "labelExpr": "datum.value==1||datum.value==10||datum.value==100?''+datum.value:''", "title": "I/In", "titleX": 316, "titleY": -14, "titleAngle": 0, "titleAlign": "left", "titleBaseline": "middle"}},
  "y": {"field": "y", "type": "quantitative", "scale": {"type": "log", "domain": [0.0078, 14000], "nice": false},
   "axis": {"values": [0.01,0.02,0.03,0.04,0.05,0.06,0.07,0.08,0.09,0.1,0.2,0.3,0.4,0.5,0.6,0.7,0.8,0.9,1,2,3,4,5,6,7,8,9,10,20,30,40,50,60,70,80,90,100,200,300,400,500,600,700,800,900,1000,2000,3000,4000,5000,6000,7000,8000,9000,10000], "labelExpr": "datum.value==10000?'10000,0':datum.value==1000?'1000,0':datum.value==100?'100,0':datum.value==10?'10,0':datum.value==1?'1,0':datum.value==0.1?'0,10':datum.value==0.01?'0,01':''", "title": "t,s", "titleX": -9, "titleY": -12, "titleAngle": 0, "titleAlign": "right", "titleBaseline": "middle"}},
  "detail": {"field": "id"},
  "order": {"field": "i", "type": "quantitative"},
  "strokeDash": {"field": "d", "type": "nominal", "scale": {"domain": ["s", "d"], "range": [[1, 0], [10, 5]]}, "legend": null}
 }},
{"data": {"name": "ann"}, "transform": [{"filter": "datum.p=='d'"}], "mark": {"type": "rule", "color": "#3a3a3a", "strokeWidth": 0.8},
 "encoding": {"x": {"field": "x", "type": "quantitative", "scale": {"type": "log", "domain": [1, 100], "nice": false}}, "y": {"field": "y", "type": "quantitative", "scale": {"type": "log", "domain": [0.0078, 14000], "nice": false}}, "x2": {"field": "x2"}, "y2": {"field": "y2"}}},
{"data": {"name": "txt"}, "transform": [{"filter": "datum.p=='d'"}], "mark": {"type": "text", "align": "left", "baseline": "middle", "font": "Liberation Sans", "fontSize": 17, "color": "#2e2e2e"},
 "encoding": {"x": {"field": "x", "type": "quantitative", "scale": {"type": "log", "domain": [1, 100], "nice": false}}, "y": {"field": "y", "type": "quantitative", "scale": {"type": "log", "domain": [0.0078, 14000], "nice": false}}, "text": {"field": "s"}}},
{"data": {"name": "hd"}, "transform": [{"filter": "datum.p=='d'"}], "mark": {"type": "point", "filled": true, "size": 30, "opacity": 1, "color": "#2e2e2e"},
 "encoding": {"x": {"field": "x", "type": "quantitative", "scale": {"type": "log", "domain": [1, 100], "nice": false}}, "y": {"field": "y", "type": "quantitative", "scale": {"type": "log", "domain": [0.0078, 14000], "nice": false}}, "shape": {"field": "dir", "type": "nominal", "scale": {"domain": ["r", "l", "u"], "range": ["triangle-right", "triangle-left", "triangle-up"]}, "legend": null}}},
{"data": {"name": "ax"}, "transform": [{"filter": "datum.p=='d'"}], "mark": {"type": "rule", "color": "#151515", "strokeWidth": 2.6},
 "encoding": {"x": {"field": "x", "type": "quantitative", "scale": {"type": "log", "domain": [1, 100], "nice": false}}, "y": {"field": "y", "type": "quantitative", "scale": {"type": "log", "domain": [0.0078, 14000], "nice": false}}, "x2": {"field": "x2"}, "y2": {"field": "y2"}}},
{"data": {"name": "ax"}, "transform": [{"filter": "datum.p=='d'"}], "mark": {"type": "point", "filled": true, "size": 80, "opacity": 1, "color": "#151515"},
 "encoding": {"x": {"field": "x2", "type": "quantitative", "scale": {"type": "log", "domain": [1, 100], "nice": false}}, "y": {"field": "y2", "type": "quantitative", "scale": {"type": "log", "domain": [0.0078, 14000], "nice": false}}, "shape": {"field": "dir", "type": "nominal", "scale": {"domain": ["r", "l", "u"], "range": ["triangle-right", "triangle-left", "triangle-up"]}, "legend": null}}}
]
},
{
"width": 304, "height": 373,
"title": {"text": "125 A", "dx": 4, "dy": 3},
"layer": [
{"data": {"name": "cur"}, "transform": [{"filter": "datum.p=='e'"}],
 "mark": {"type": "line", "interpolate": "catmull-rom", "color": "#151515", "strokeWidth": 2.5},
 "encoding": {
  "x": {"field": "x", "type": "quantitative", "scale": {"type": "log", "domain": [1, 100], "nice": false},
   "axis": {"values": [1,2,3,4,5,6,7,8,9,10,20,30,40,50,60,70,80,90,100], "labelExpr": "datum.value==1||datum.value==10||datum.value==100?''+datum.value:''", "title": "I/In", "titleX": 315, "titleY": -12, "titleAngle": 0, "titleAlign": "left", "titleBaseline": "middle"}},
  "y": {"field": "y", "type": "quantitative", "scale": {"type": "log", "domain": [0.0078, 14000], "nice": false},
   "axis": {"values": [0.01,0.02,0.03,0.04,0.05,0.06,0.07,0.08,0.09,0.1,0.2,0.3,0.4,0.5,0.6,0.7,0.8,0.9,1,2,3,4,5,6,7,8,9,10,20,30,40,50,60,70,80,90,100,200,300,400,500,600,700,800,900,1000,2000,3000,4000,5000,6000,7000,8000,9000,10000], "labelExpr": "datum.value==10000?'10000,0':datum.value==1000?'1000,0':datum.value==100?'100,0':datum.value==10?'10,0':datum.value==1?'1,0':datum.value==0.1?'0,10':datum.value==0.01?'0,01':''", "title": "t,s", "titleX": -7, "titleY": -11, "titleAngle": 0, "titleAlign": "right", "titleBaseline": "middle"}},
  "detail": {"field": "id"},
  "order": {"field": "i", "type": "quantitative"},
  "strokeDash": {"field": "d", "type": "nominal", "scale": {"domain": ["s", "d"], "range": [[1, 0], [10, 5]]}, "legend": null}
 }},
{"data": {"name": "ann"}, "transform": [{"filter": "datum.p=='e'"}], "mark": {"type": "rule", "color": "#3a3a3a", "strokeWidth": 0.8},
 "encoding": {"x": {"field": "x", "type": "quantitative", "scale": {"type": "log", "domain": [1, 100], "nice": false}}, "y": {"field": "y", "type": "quantitative", "scale": {"type": "log", "domain": [0.0078, 14000], "nice": false}}, "x2": {"field": "x2"}, "y2": {"field": "y2"}}},
{"data": {"name": "txt"}, "transform": [{"filter": "datum.p=='e'"}], "mark": {"type": "text", "align": "left", "baseline": "middle", "font": "Liberation Sans", "fontSize": 17, "color": "#2e2e2e"},
 "encoding": {"x": {"field": "x", "type": "quantitative", "scale": {"type": "log", "domain": [1, 100], "nice": false}}, "y": {"field": "y", "type": "quantitative", "scale": {"type": "log", "domain": [0.0078, 14000], "nice": false}}, "text": {"field": "s"}}},
{"data": {"name": "hd"}, "transform": [{"filter": "datum.p=='e'"}], "mark": {"type": "point", "filled": true, "size": 30, "opacity": 1, "color": "#2e2e2e"},
 "encoding": {"x": {"field": "x", "type": "quantitative", "scale": {"type": "log", "domain": [1, 100], "nice": false}}, "y": {"field": "y", "type": "quantitative", "scale": {"type": "log", "domain": [0.0078, 14000], "nice": false}}, "shape": {"field": "dir", "type": "nominal", "scale": {"domain": ["r", "l", "u"], "range": ["triangle-right", "triangle-left", "triangle-up"]}, "legend": null}}},
{"data": {"name": "ax"}, "transform": [{"filter": "datum.p=='e'"}], "mark": {"type": "rule", "color": "#151515", "strokeWidth": 2.6},
 "encoding": {"x": {"field": "x", "type": "quantitative", "scale": {"type": "log", "domain": [1, 100], "nice": false}}, "y": {"field": "y", "type": "quantitative", "scale": {"type": "log", "domain": [0.0078, 14000], "nice": false}}, "x2": {"field": "x2"}, "y2": {"field": "y2"}}},
{"data": {"name": "ax"}, "transform": [{"filter": "datum.p=='e'"}], "mark": {"type": "point", "filled": true, "size": 80, "opacity": 1, "color": "#151515"},
 "encoding": {"x": {"field": "x2", "type": "quantitative", "scale": {"type": "log", "domain": [1, 100], "nice": false}}, "y": {"field": "y2", "type": "quantitative", "scale": {"type": "log", "domain": [0.0078, 14000], "nice": false}}, "shape": {"field": "dir", "type": "nominal", "scale": {"domain": ["r", "l", "u"], "range": ["triangle-right", "triangle-left", "triangle-up"]}, "legend": null}}}
]
},
{
"width": 303, "height": 373,
"title": {"text": "160, 200, 250 A", "dx": 8, "dy": 8},
"layer": [
{"data": {"name": "cur"}, "transform": [{"filter": "datum.p=='f'"}],
 "mark": {"type": "line", "interpolate": "catmull-rom", "color": "#151515", "strokeWidth": 2.5},
 "encoding": {
  "x": {"field": "x", "type": "quantitative", "scale": {"type": "log", "domain": [1, 100], "nice": false},
   "axis": {"values": [1,2,3,4,5,6,7,8,9,10,20,30,40,50,60,70,80,90,100], "labelExpr": "datum.value==1||datum.value==10||datum.value==100?''+datum.value:''", "title": "I/In", "titleX": 315, "titleY": -12, "titleAngle": 0, "titleAlign": "left", "titleBaseline": "middle"}},
  "y": {"field": "y", "type": "quantitative", "scale": {"type": "log", "domain": [0.0078, 14000], "nice": false},
   "axis": {"values": [0.01,0.02,0.03,0.04,0.05,0.06,0.07,0.08,0.09,0.1,0.2,0.3,0.4,0.5,0.6,0.7,0.8,0.9,1,2,3,4,5,6,7,8,9,10,20,30,40,50,60,70,80,90,100,200,300,400,500,600,700,800,900,1000,2000,3000,4000,5000,6000,7000,8000,9000,10000], "labelExpr": "datum.value==10000?'10000,0':datum.value==1000?'1000,0':datum.value==100?'100,0':datum.value==10?'10,0':datum.value==1?'1,0':datum.value==0.1?'0,10':datum.value==0.01?'0,01':''", "title": "t,s", "titleX": -8, "titleY": -13, "titleAngle": 0, "titleAlign": "right", "titleBaseline": "middle"}},
  "detail": {"field": "id"},
  "order": {"field": "i", "type": "quantitative"},
  "strokeDash": {"field": "d", "type": "nominal", "scale": {"domain": ["s", "d"], "range": [[1, 0], [10, 5]]}, "legend": null}
 }},
{"data": {"name": "ann"}, "transform": [{"filter": "datum.p=='f'"}], "mark": {"type": "rule", "color": "#3a3a3a", "strokeWidth": 0.8},
 "encoding": {"x": {"field": "x", "type": "quantitative", "scale": {"type": "log", "domain": [1, 100], "nice": false}}, "y": {"field": "y", "type": "quantitative", "scale": {"type": "log", "domain": [0.0078, 14000], "nice": false}}, "x2": {"field": "x2"}, "y2": {"field": "y2"}}},
{"data": {"name": "txt"}, "transform": [{"filter": "datum.p=='f'"}], "mark": {"type": "text", "align": "left", "baseline": "middle", "font": "Liberation Sans", "fontSize": 17, "color": "#2e2e2e"},
 "encoding": {"x": {"field": "x", "type": "quantitative", "scale": {"type": "log", "domain": [1, 100], "nice": false}}, "y": {"field": "y", "type": "quantitative", "scale": {"type": "log", "domain": [0.0078, 14000], "nice": false}}, "text": {"field": "s"}}},
{"data": {"name": "hd"}, "transform": [{"filter": "datum.p=='f'"}], "mark": {"type": "point", "filled": true, "size": 30, "opacity": 1, "color": "#2e2e2e"},
 "encoding": {"x": {"field": "x", "type": "quantitative", "scale": {"type": "log", "domain": [1, 100], "nice": false}}, "y": {"field": "y", "type": "quantitative", "scale": {"type": "log", "domain": [0.0078, 14000], "nice": false}}, "shape": {"field": "dir", "type": "nominal", "scale": {"domain": ["r", "l", "u"], "range": ["triangle-right", "triangle-left", "triangle-up"]}, "legend": null}}},
{"data": {"name": "ax"}, "transform": [{"filter": "datum.p=='f'"}], "mark": {"type": "rule", "color": "#151515", "strokeWidth": 2.6},
 "encoding": {"x": {"field": "x", "type": "quantitative", "scale": {"type": "log", "domain": [1, 100], "nice": false}}, "y": {"field": "y", "type": "quantitative", "scale": {"type": "log", "domain": [0.0078, 14000], "nice": false}}, "x2": {"field": "x2"}, "y2": {"field": "y2"}}},
{"data": {"name": "ax"}, "transform": [{"filter": "datum.p=='f'"}], "mark": {"type": "point", "filled": true, "size": 80, "opacity": 1, "color": "#151515"},
 "encoding": {"x": {"field": "x2", "type": "quantitative", "scale": {"type": "log", "domain": [1, 100], "nice": false}}, "y": {"field": "y2", "type": "quantitative", "scale": {"type": "log", "domain": [0.0078, 14000], "nice": false}}, "shape": {"field": "dir", "type": "nominal", "scale": {"domain": ["r", "l", "u"], "range": ["triangle-right", "triangle-left", "triangle-up"]}, "legend": null}}}
]
}
],
"config": {
 "view": {"stroke": "#151515", "strokeWidth": 1},
 "axis": {"grid": true, "gridColor": "#1a1a1a", "gridWidth": 0.9, "gridOpacity": 0.95, "domainColor": "#151515", "domainWidth": 2.6, "ticks": false, "labelFont": "Liberation Sans", "labelFontSize": 17, "labelColor": "#1a1a1a", "labelPadding": 4, "labelOverlap": false, "labelFlush": false, "labelBound": false, "titleFont": "Liberation Sans", "titleFontSize": 17, "titleFontWeight": "normal", "titleColor": "#1a1a1a", "titlePadding": 0},
 "title": {"font": "Liberation Sans", "fontSize": 20, "fontWeight": "bold", "fontStyle": "italic", "color": "#1a1a1a", "anchor": "end", "frame": "group", "baseline": "bottom", "offset": -6}
}
}
